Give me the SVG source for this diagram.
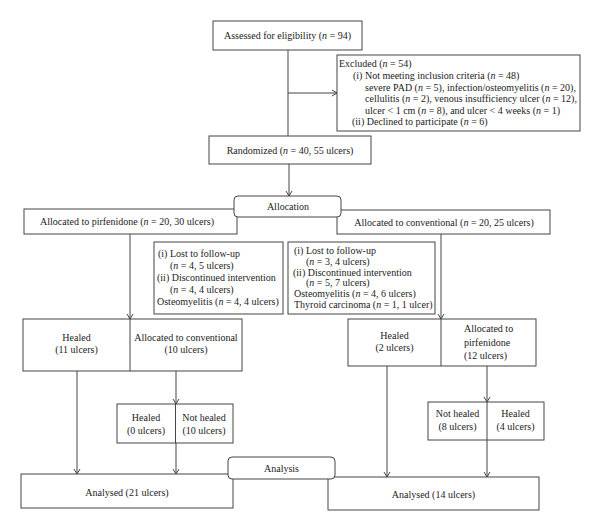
<svg xmlns="http://www.w3.org/2000/svg" width="600" height="531" viewBox="0 0 600 531">
<style>
.b{fill:#fff;stroke:#444;stroke-width:1}
.r{fill:#fff;stroke:#444;stroke-width:1}
.l{fill:none;stroke:#444;stroke-width:1}
text{font-family:"Liberation Serif","Times New Roman",serif;font-size:10px;fill:#222}
.c{text-anchor:middle}
</style>
<defs>
<marker id="ah" markerWidth="8" markerHeight="8" refX="7" refY="4" orient="auto" markerUnits="userSpaceOnUse">
<polyline points="2,1 7,4 2,7" fill="none" stroke="#444" stroke-width="1"/>
</marker>
</defs>
<rect width="600" height="531" fill="#fff"/>
<g id="connectors">
<line class="l" x1="288" y1="50" x2="288" y2="136"/>
<line class="l" x1="288" y1="93" x2="337" y2="93" marker-end="url(#ah)"/>
<line class="l" x1="289" y1="164" x2="289" y2="196" marker-end="url(#ah)"/>
<line class="l" x1="130" y1="234" x2="130" y2="319" marker-end="url(#ah)"/>
<line class="l" x1="441" y1="234" x2="441" y2="319" marker-end="url(#ah)"/>
<line class="l" x1="77" y1="371" x2="77" y2="474" marker-end="url(#ah)"/>
<line class="l" x1="176" y1="371" x2="176" y2="404" marker-end="url(#ah)"/>
<line class="l" x1="176" y1="443" x2="176" y2="474" marker-end="url(#ah)"/>
<line class="l" x1="387" y1="366" x2="387" y2="477" marker-end="url(#ah)"/>
<line class="l" x1="487" y1="366" x2="487" y2="402" marker-end="url(#ah)"/>
<line class="l" x1="487" y1="440" x2="487" y2="477" marker-end="url(#ah)"/>
</g>
<g id="assessed">
<rect class="b" x="213" y="21" width="149" height="29"/>
<text class="c" x="287.5" y="39">Assessed for eligibility (<tspan font-style="italic">n</tspan> = 94)</text>
</g>
<g id="excluded">
<rect class="b" x="337" y="55" width="243" height="76"/>
<text x="339" y="67">Excluded (<tspan font-style="italic">n</tspan> = 54)</text>
<text x="353" y="79">(i) Not meeting inclusion criteria (<tspan font-style="italic">n</tspan> = 48)</text>
<text x="365" y="90.5">severe PAD (<tspan font-style="italic">n</tspan> = 5), infection/osteomyelitis (<tspan font-style="italic">n</tspan> = 20),</text>
<text x="365" y="102">cellulitis (<tspan font-style="italic">n</tspan> = 2), venous insufficiency ulcer (<tspan font-style="italic">n</tspan> = 12),</text>
<text x="365" y="113.5">ulcer &lt; 1 cm (<tspan font-style="italic">n</tspan> = 8), and ulcer &lt; 4 weeks (<tspan font-style="italic">n</tspan> = 1)</text>
<text x="352" y="125">(ii) Declined to participate (<tspan font-style="italic">n</tspan> = 6)</text>
</g>
<g id="randomized">
<rect class="b" x="209" y="136" width="162" height="28"/>
<text class="c" x="290" y="153.5">Randomized (<tspan font-style="italic">n</tspan> = 40, 55 ulcers)</text>
</g>
<g id="alloc-pirfenidone">
<rect class="b" x="24" y="209" width="213" height="25"/>
<text class="c" x="127" y="224.5">Allocated to pirfenidone (<tspan font-style="italic">n</tspan> = 20, 30 ulcers)</text>
</g>
<g id="alloc-conventional">
<rect class="b" x="337" y="210" width="213" height="24"/>
<text class="c" x="444" y="225.5">Allocated to conventional (<tspan font-style="italic">n</tspan> = 20, 25 ulcers)</text>
</g>
<g id="allocation">
<rect class="r" x="234" y="196" width="107" height="21" rx="4"/>
<text class="c" x="288" y="210">Allocation</text>
</g>
<g id="dropout-left">
<rect class="b" x="154" y="242" width="129" height="72"/>
<text x="158" y="256.5">(i) Lost to follow-up</text>
<text x="170" y="268.5">(<tspan font-style="italic">n</tspan> = 4, 5 ulcers)</text>
<text x="157" y="280.5">(ii) Discontinued intervention</text>
<text x="170" y="292.5">(<tspan font-style="italic">n</tspan> = 4, 4 ulcers)</text>
<text x="157" y="304.5">Osteomyelitis (<tspan font-style="italic">n</tspan> = 4, 4 ulcers)</text>
</g>
<g id="dropout-right">
<rect class="b" x="288" y="242" width="147" height="72"/>
<text x="294" y="253.5">(i) Lost to follow-up</text>
<text x="306" y="264.5">(<tspan font-style="italic">n</tspan> = 3, 4 ulcers)</text>
<text x="293" y="275.5">(ii) Discontinued intervention</text>
<text x="306" y="286">(<tspan font-style="italic">n</tspan> = 5, 7 ulcers)</text>
<text x="294" y="297">Osteomyelitis (<tspan font-style="italic">n</tspan> = 4, 6 ulcers)</text>
<text x="294" y="308">Thyroid carcinoma (<tspan font-style="italic">n</tspan> = 1, 1 ulcer)</text>
</g>
<g id="left-outcome">
<rect class="b" x="23" y="319" width="219" height="52"/>
<line class="l" x1="130" y1="319" x2="130" y2="371"/>
<text class="c" x="76.5" y="340.5">Healed</text>
<text class="c" x="76.5" y="352.5">(11 ulcers)</text>
<text class="c" x="186" y="340.5">Allocated to conventional</text>
<text class="c" x="186" y="352.5">(10 ulcers)</text>
</g>
<g id="right-outcome">
<rect class="b" x="348" y="319" width="188" height="47"/>
<line class="l" x1="441" y1="319" x2="441" y2="366"/>
<text class="c" x="394.5" y="338.5">Healed</text>
<text class="c" x="394.5" y="350.5">(2 ulcers)</text>
<text x="464" y="331.5">Allocated to</text>
<text x="464" y="345.5">pirfenidone</text>
<text x="464" y="358.5">(12 ulcers)</text>
</g>
<g id="left-crossover">
<rect class="b" x="117" y="404" width="116" height="39"/>
<line class="l" x1="175.5" y1="404" x2="175.5" y2="443"/>
<text class="c" x="146" y="420.5">Healed</text>
<text class="c" x="146" y="433.5">(0 ulcers)</text>
<text class="c" x="204" y="420.5">Not healed</text>
<text class="c" x="204" y="433.5">(10 ulcers)</text>
</g>
<g id="right-crossover">
<rect class="b" x="428" y="402" width="116" height="38"/>
<line class="l" x1="487" y1="402" x2="487" y2="440"/>
<text class="c" x="457.5" y="416.5">Not healed</text>
<text class="c" x="457.5" y="429.5">(8 ulcers)</text>
<text class="c" x="515.5" y="416.5">Healed</text>
<text class="c" x="515.5" y="429.5">(4 ulcers)</text>
</g>
<g id="analysed-left">
<rect class="b" x="21" y="474" width="212" height="34"/>
<text class="c" x="127" y="495.5">Analysed (21 ulcers)</text>
</g>
<g id="analysed-right">
<rect class="b" x="328" y="477" width="211" height="33"/>
<text class="c" x="433.5" y="497.5">Analysed (14 ulcers)</text>
</g>
<g id="analysis">
<rect class="r" x="228" y="457" width="107" height="22" rx="4"/>
<text class="c" x="281.5" y="471.5">Analysis</text>
</g>
</svg>
